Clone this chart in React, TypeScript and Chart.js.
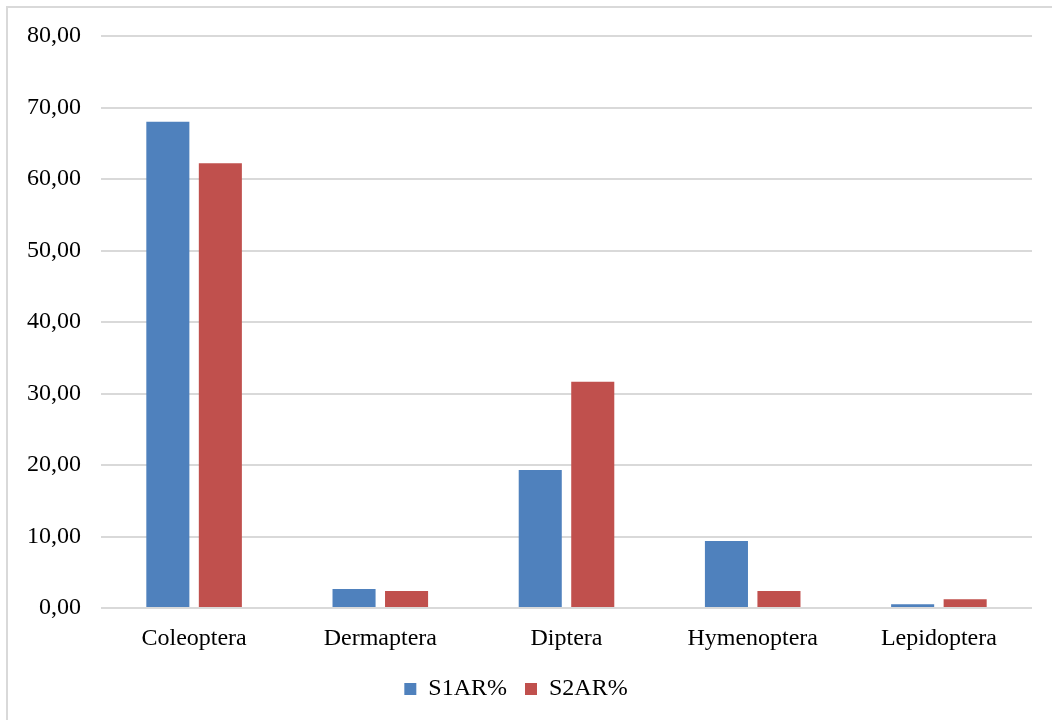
import React, { useEffect, useRef } from "react";
import { Chart, registerables } from "chart.js";

Chart.register(...registerables);

const categories = ["Coleoptera", "Dermaptera", "Diptera", "Hymenoptera", "Lepidoptera"];
const s1Values = [68.0, 2.66, 19.3, 9.38, 0.52];
const s2Values = [62.2, 2.38, 31.65, 2.38, 1.22];
const seriesNames = ["S1AR%", "S2AR%"];
const seriesColors = ["#4f81bd", "#c0504d"];

const FONT = "'Liberation Serif', 'Times New Roman', serif";

export default function App() {
  const ref = useRef<HTMLCanvasElement | null>(null);

  useEffect(() => {
    if (!ref.current) return;
    const chart = new Chart(ref.current, {
      type: "bar",
      data: {
        labels: categories,
        datasets: [
          {
            label: seriesNames[0],
            data: s1Values,
            backgroundColor: seriesColors[0],
            categoryPercentage: 0.564,
            barPercentage: 0.82,
          },
          {
            label: seriesNames[1],
            data: s2Values,
            backgroundColor: seriesColors[1],
            categoryPercentage: 0.564,
            barPercentage: 0.82,
          },
        ],
      },
      options: {
        animation: false,
        responsive: true,
        maintainAspectRatio: false,
        layout: { padding: { left: 0, right: 20, top: 36, bottom: 9 } },
        plugins: {
          tooltip: { enabled: false },
          legend: {
            position: "bottom",
            labels: {
              boxWidth: 12,
              boxHeight: 12,
              padding: 18,
              color: "#000",
              font: { family: FONT, size: 24 },
            },
          },
        },
        scales: {
          x: {
            grid: { display: false },
            border: { display: false },
            ticks: {
              color: "#000",
              font: { family: FONT, size: 24 },
              padding: 8,
              maxRotation: 0,
            },
            afterFit: (scale: any) => {
              scale.height = 51;
            },
          },
          y: {
            min: 0,
            max: 80,
            grid: { color: "#d9d9d9", lineWidth: 2, drawTicks: false },
            border: { display: false },
            ticks: {
              stepSize: 10,
              color: "#000",
              padding: 20,
              font: { family: FONT, size: 24 },
              callback: (v: any) => Number(v).toFixed(2).replace(".", ","),
            },
            afterFit: (scale: any) => {
              scale.width = 101;
            },
          },
        },
      },
    });
    return () => chart.destroy();
  }, []);

  return (
    <div
      style={{
        position: "fixed",
        left: 0,
        top: 0,
        width: 1052,
        height: 720,
        background: "#fff",
        overflow: "hidden",
      }}
    >
      <div
        style={{
          position: "absolute",
          left: 6,
          top: 6,
          width: 1200,
          height: 900,
          border: "2px solid #d9d9d9",
        }}
      />
      <div style={{ position: "absolute", left: 0, top: 0, width: 1052, height: 720 }}>
        <canvas ref={ref} />
      </div>
    </div>
  );
}
